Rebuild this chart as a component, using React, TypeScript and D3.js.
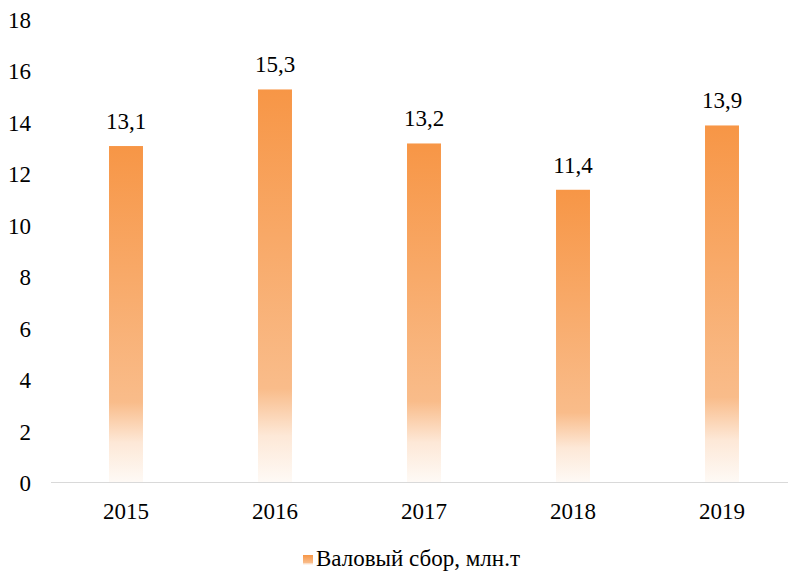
import { useEffect, useRef } from "react";
import * as d3 from "d3";

const years = ["2015", "2016", "2017", "2018", "2019"];
const harvest = [13.1, 15.3, 13.2, 11.4, 13.9];
const yTicks = [0, 2, 4, 6, 8, 10, 12, 14, 16, 18];
const seriesName = "Валовый сбор, млн.т";

const App = () => {
  const ref = useRef<SVGSVGElement | null>(null);

  useEffect(() => {
    const width = 788;
    const height = 576;
    const font = "'Liberation Serif', 'Times New Roman', serif";
    const fontSize = 23;

    const svg = d3.select(ref.current);
    svg.selectAll("*").remove();
    svg.attr("width", width).attr("height", height).attr("font-family", font);

    // gradient for bars (per bar bounding box)
    const defs = svg.append("defs");
    const grad = defs
      .append("linearGradient")
      .attr("id", "barFill")
      .attr("x1", 0)
      .attr("y1", 0)
      .attr("x2", 0)
      .attr("y2", 1);
    [
      [0, "#F79646"],
      [0.76, "#F9BC8A"],
      [0.88, "#FDE8D7"],
      [1, "#FEFAF6"],
    ].forEach(([o, c]) => grad.append("stop").attr("offset", o as number).attr("stop-color", c as string));

    const x = d3.scaleBand<string>().domain(years).range([51.5, 796.5]).paddingInner(0.772).paddingOuter(0.386);
    const y = d3.scaleLinear().domain([0, 18]).range([483, 20]);

    // y tick labels
    svg
      .append("g")
      .selectAll("text")
      .data(yTicks)
      .enter()
      .append("text")
      .attr("x", 31)
      .attr("y", (d) => y(d))
      .attr("dy", "0.35em")
      .attr("text-anchor", "end")
      .attr("font-size", fontSize)
      .attr("fill", "#000")
      .text((d) => d);

    // bars
    svg
      .append("g")
      .selectAll("rect")
      .data(harvest)
      .enter()
      .append("rect")
      .attr("x", (d, i) => x(years[i])!)
      .attr("y", (d) => y(d))
      .attr("width", x.bandwidth())
      .attr("height", (d) => y(0) - y(d))
      .attr("fill", "url(#barFill)");

    // baseline
    svg
      .append("line")
      .attr("x1", 51)
      .attr("x2", width)
      .attr("y1", y(0) - 0.5)
      .attr("y2", y(0) - 0.5)
      .attr("stroke", "#D9D9D9")
      .attr("stroke-width", 1);

    // value labels
    svg
      .append("g")
      .selectAll("text")
      .data(harvest)
      .enter()
      .append("text")
      .attr("x", (d, i) => x(years[i])! + x.bandwidth() / 2)
      .attr("y", (d) => y(d) - 17)
      .attr("text-anchor", "middle")
      .attr("font-size", fontSize)
      .attr("fill", "#000")
      .text((d) => d.toFixed(1).replace(".", ","));

    // year labels
    svg
      .append("g")
      .selectAll("text")
      .data(years)
      .enter()
      .append("text")
      .attr("x", (d) => x(d)! + x.bandwidth() / 2)
      .attr("y", 519)
      .attr("text-anchor", "middle")
      .attr("font-size", fontSize)
      .attr("fill", "#000")
      .text((d) => d);

    // legend
    const legend = svg.append("g");
    legend
      .append("rect")
      .attr("x", 303)
      .attr("y", 555)
      .attr("width", 10)
      .attr("height", 10)
      .attr("fill", "url(#barFill)");
    legend
      .append("text")
      .attr("x", 316)
      .attr("y", 566)
      .attr("font-size", fontSize)
      .attr("fill", "#000")
      .text(seriesName);
  }, []);

  return (
    <div style={{ position: "fixed", left: 0, top: 0 }}>
      <svg ref={ref} style={{ display: "block", background: "#fff" }} />
    </div>
  );
};

export default App;
